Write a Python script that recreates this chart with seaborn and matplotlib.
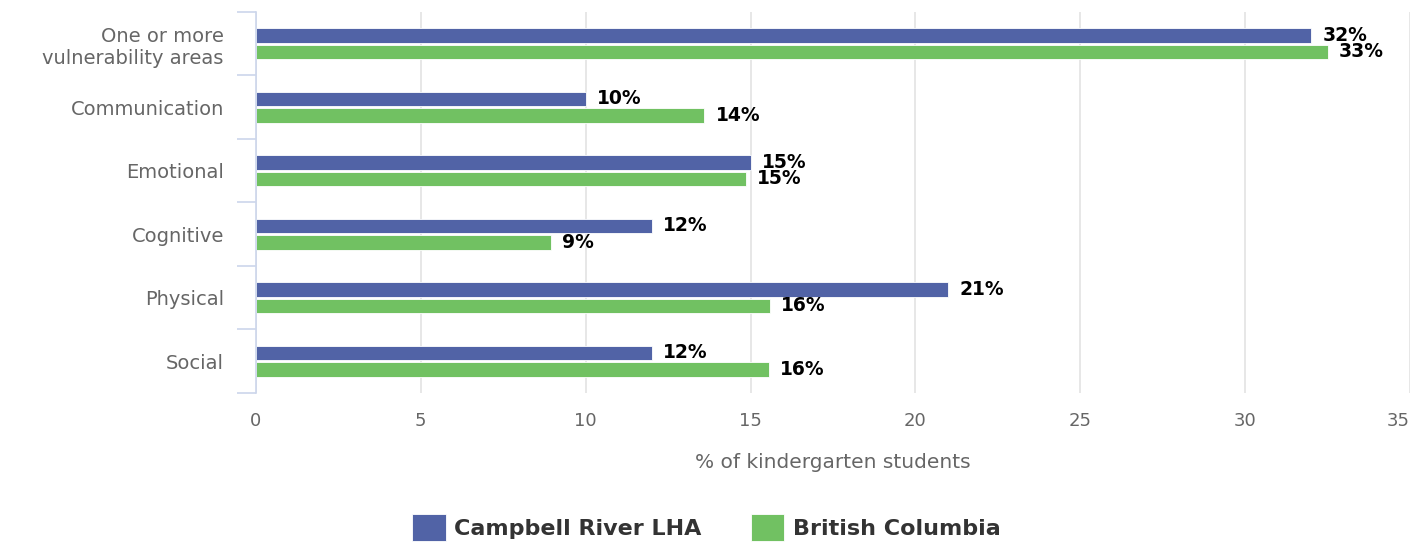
import pandas as pd
import numpy as np
import matplotlib
matplotlib.use("Agg")
import matplotlib.pyplot as plt
import seaborn as sns

# values
categories = ["One or more\nvulnerability areas", "Communication", "Emotional",
              "Cognitive", "Physical", "Social"]
campbell_river = [32, 10, 15, 12, 21, 12]
british_columbia = [32.5, 13.6, 14.85, 8.95, 15.6, 15.55]
campbell_labels = ["32%", "10%", "15%", "12%", "21%", "12%"]
bc_labels = ["33%", "14%", "15%", "9%", "16%", "16%"]
series = ["Campbell River LHA", "British Columbia"]
x_ticks = [0, 5, 10, 15, 20, 25, 30, 35]

df = pd.DataFrame({
    "category": categories * 2,
    "value": campbell_river + british_columbia,
    "series": [series[0]] * len(categories) + [series[1]] * len(categories),
})

sns.set_style("white")
plt.rcParams["font.family"] = ["DejaVu Sans"]

fig = plt.figure(figsize=(14.13, 5.42), dpi=100)
ax = fig.add_axes([0.181, 0.275, 0.817, 0.703])

palette = {series[0]: "#5163a6", series[1]: "#71c162"}
sns.barplot(data=df, x="value", y="category", hue="series", orient="h",
            palette=palette, width=0.52, gap=0.14, ax=ax, legend=True,
            edgecolor="white", linewidth=0.6, saturation=1)

for cont, labs in zip(ax.containers, [campbell_labels, bc_labels]):
    ax.bar_label(cont, labels=labs, padding=8, fontsize=13.5, fontweight="bold",
                 color="black")

ax.set_xlim(0, 35)
ax.set_xticks(x_ticks)
ax.set_xticklabels([str(t) for t in x_ticks], fontsize=13, color="#666666")
ax.get_xticklabels()[-1].set_horizontalalignment("right")
ax.set_ylim(len(categories) - 0.5, -0.5)
ax.tick_params(axis="y", labelsize=14, labelcolor="#666666", length=0, pad=23)
ax.tick_params(axis="x", length=0, pad=14)
ax.set_yticks(np.arange(-0.5, len(categories), 1.0), minor=True)
ax.tick_params(axis="y", which="minor", left=True, length=14, color="#ccd6eb", width=1.2)

ax.grid(axis="x", color="#e3e3e3", linewidth=1.2)
ax.set_axisbelow(True)
for s in ["top", "right", "bottom"]:
    ax.spines[s].set_visible(False)
ax.spines["left"].set_color("#ccd6eb")
ax.spines["left"].set_linewidth(1.2)

ax.set_xlabel("% of kindergarten students", fontsize=14.5, color="#666666", labelpad=16)
ax.set_ylabel("")

handles, labels = ax.get_legend_handles_labels()
ax.get_legend().remove()
fig.legend(handles, labels, loc="lower center", bbox_to_anchor=(0.5, -0.035), ncol=2,
           frameon=False, handlelength=1.5, handleheight=1.5, columnspacing=2.2,
           handletextpad=0.4, prop={"size": 16, "weight": "bold"},
           labelcolor="#333333")

fig.savefig("out.png", dpi=100)
